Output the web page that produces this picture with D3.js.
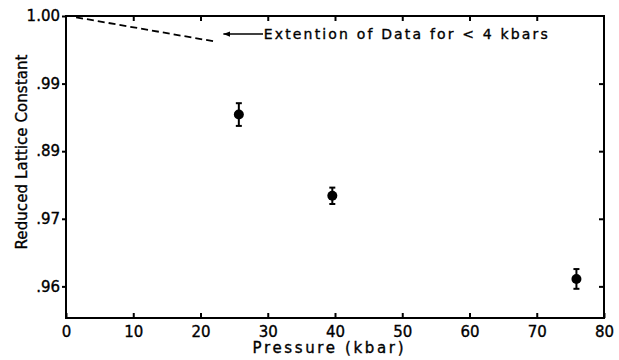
<!DOCTYPE html>
<html>
<head>
<meta charset="utf-8">
<script src="https://cdn.jsdelivr.net/npm/d3@7"></script>
<style>
  body { margin: 0; background: #fff; }
  svg { display: block; font-family: "DejaVu Sans", sans-serif; }
  text { fill: #000; stroke: #000; stroke-width: 0.35px; }
</style>
</head>
<body>
<svg id="chart" width="619" height="360"></svg>
<script>
// measured points (pressure in kbar, reduced lattice constant, error)
var pressure = [25.7, 39.6, 75.9];
var latticeConst = [0.98542, 0.97340, 0.96110];
var errBar = [0.00168, 0.00121, 0.00146];

// dashed extension for < 4 kbars
var extPressure = [1.5, 22];
var extConst = [0.9998, 0.99625];

var xTicks = [0, 10, 20, 30, 40, 50, 60, 70, 80];
var yTicks = [1.00, 0.99, 0.98, 0.97, 0.96];
var yTickLabels = ['1.00', '.99', '.89', '.97', '.96']; // as printed in the original

var svg = d3.select('#chart');
var margin = {left: 66, right: 15, top: 16, bottom: 42};
var width = 619 - margin.left - margin.right;
var height = 360 - margin.top - margin.bottom;

var x = d3.scaleLinear().domain([0, 80]).range([0, width]);
var y = d3.scaleLinear().domain([0.95532, 1.00]).range([height, 0]);

var g = svg.append('g').attr('transform', `translate(${margin.left},${margin.top})`);

// frame
g.append('rect')
  .attr('width', width).attr('height', height)
  .attr('fill', 'none').attr('stroke', '#000').attr('stroke-width', 2);

// bottom axis: ticks point inward
var xAxis = g.append('g').attr('transform', `translate(0,${height})`)
  .call(d3.axisBottom(x).tickValues(xTicks).tickSizeInner(-5).tickSizeOuter(0).tickPadding(8));
// top axis: ticks only
var xAxisTop = g.append('g')
  .call(d3.axisTop(x).tickValues(xTicks.slice(1, -1)).tickSizeInner(-5).tickSizeOuter(0).tickFormat(''));
// left axis: ticks outward
var yAxis = g.append('g')
  .call(d3.axisLeft(y).tickValues(yTicks).tickSizeInner(4).tickSizeOuter(0).tickPadding(2)
    .tickFormat((d, i) => yTickLabels[i]));
// right axis: ticks inward
var yAxisRight = g.append('g').attr('transform', `translate(${width},0)`)
  .call(d3.axisRight(y).tickValues(yTicks.slice(1)).tickSizeInner(-5).tickSizeOuter(0).tickFormat(''));

[xAxis, xAxisTop, yAxis, yAxisRight].forEach(function(a) {
  a.select('.domain').remove();
  a.selectAll('line').attr('stroke', '#000').attr('stroke-width', 2);
  a.selectAll('text').attr('fill', '#000').attr('font-size', 15).attr('font-family', '"DejaVu Sans", sans-serif');
});

// dashed extension line
var extLine = d3.line().x(d => x(d[0])).y(d => y(d[1]));
g.append('path')
  .datum(d3.zip(extPressure, extConst))
  .attr('d', extLine)
  .attr('fill', 'none')
  .attr('stroke', '#000')
  .attr('stroke-width', 1.8)
  .attr('stroke-dasharray', '7,4');

// annotation arrow
var defs = svg.append('defs');
defs.append('marker')
  .attr('id', 'arrowHead')
  .attr('viewBox', '0 -5 10 10')
  .attr('refX', 10).attr('refY', 0)
  .attr('markerWidth', 7).attr('markerHeight', 7)
  .attr('markerUnits', 'userSpaceOnUse')
  .attr('orient', 'auto')
  .append('path')
    .attr('d', 'M0,-4 L10,0 L0,4 Z')
    .attr('fill', '#000');

var arrowY = 0.99733;
g.append('line')
  .attr('x1', x(29.3)).attr('y1', y(arrowY))
  .attr('x2', x(23.4)).attr('y2', y(arrowY))
  .attr('stroke', '#000').attr('stroke-width', 1.4)
  .attr('marker-end', 'url(#arrowHead)');
g.append('text')
  .attr('x', x(29.4)).attr('y', y(arrowY) + 5)
  .attr('font-size', 14)
  .attr('textLength', 284)
  .attr('lengthAdjust', 'spacing')
  .text('Extention of Data for < 4 kbars');

// error bars
var pts = d3.zip(pressure, latticeConst, errBar);
var eb = g.selectAll('.errbar').data(pts).enter().append('g').attr('class', 'errbar');
eb.append('line')
  .attr('x1', d => x(d[0])).attr('x2', d => x(d[0]))
  .attr('y1', d => y(d[1] + d[2])).attr('y2', d => y(d[1] - d[2]))
  .attr('stroke', '#000').attr('stroke-width', 2);
[1, -1].forEach(function(s) {
  eb.append('line')
    .attr('x1', d => x(d[0]) - 3).attr('x2', d => x(d[0]) + 3)
    .attr('y1', d => y(d[1] + s * d[2])).attr('y2', d => y(d[1] + s * d[2]))
    .attr('stroke', '#000').attr('stroke-width', 2);
});
eb.append('circle')
  .attr('cx', d => x(d[0])).attr('cy', d => y(d[1]))
  .attr('r', 5).attr('fill', '#000');

// axis titles
svg.append('text')
  .attr('x', margin.left + x(40) - 7).attr('y', 353)
  .attr('text-anchor', 'middle')
  .attr('font-size', 15)
  .attr('textLength', 151).attr('lengthAdjust', 'spacing')
  .text('Pressure (kbar)');
svg.append('text')
  .attr('transform', 'translate(27,152) rotate(-90)')
  .attr('text-anchor', 'middle')
  .attr('font-size', 15)
  .attr('textLength', 195).attr('lengthAdjust', 'spacing')
  .text('Reduced Lattice Constant');
</script>
</body>
</html>
